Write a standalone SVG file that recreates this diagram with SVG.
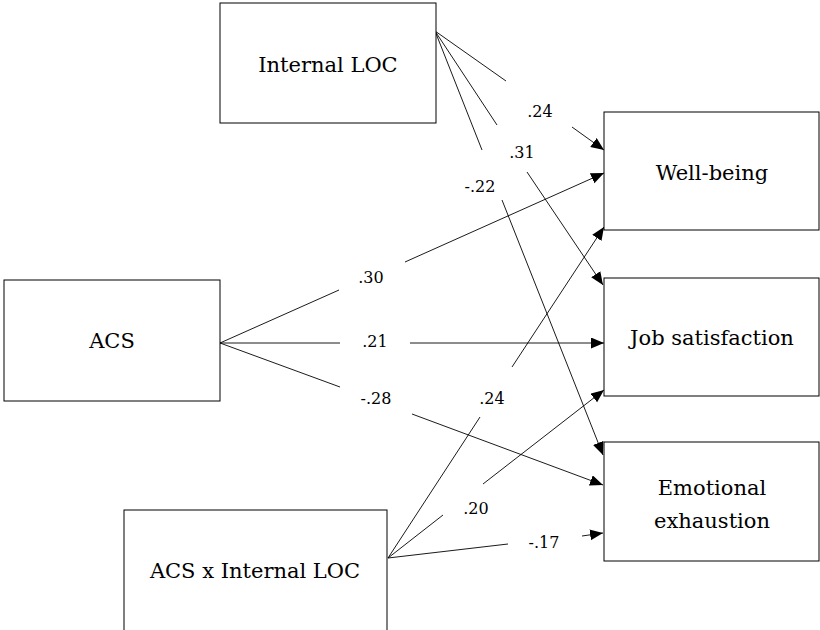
<svg xmlns="http://www.w3.org/2000/svg" width="820" height="630" viewBox="0 0 820 630">
<defs>
<style>
.box{fill:#fff;stroke:#000;stroke-width:1}
.lbl{font-family:'DejaVu Serif','Liberation Serif',serif;font-size:21px;fill:#000;text-anchor:middle}
.coef{font-family:'DejaVu Serif','Liberation Serif',serif;font-size:16px;fill:#000;text-anchor:middle}
.edge{fill:none;stroke:#000;stroke-width:0.9}
</style>
<marker id="arr" markerUnits="userSpaceOnUse" markerWidth="14" markerHeight="12" refX="13" refY="5.5" orient="auto">
<path d="M0,0 L13,5.5 L0,11 Z" fill="#000"/>
</marker>
</defs>
<rect width="820" height="630" fill="#fff"/>
<g id="connectors">
<path class="edge" d="M435,31 L506,81 M572,127 L604,150" marker-end="url(#arr)"/>
<path class="edge" d="M435,31 L497,125 M527,172 L603,285" marker-end="url(#arr)"/>
<path class="edge" d="M435,31 L482,150 M502,200 L603,455" marker-end="url(#arr)"/>
<path class="edge" d="M220,343 L339,290 M405,262 L604,173" marker-end="url(#arr)"/>
<path class="edge" d="M220,343 L340,343 M410,343 L604,343" marker-end="url(#arr)"/>
<path class="edge" d="M220,343 L340,387 M412,414 L603,485" marker-end="url(#arr)"/>
<path class="edge" d="M388,558 L480,417 M512,367 L604,227" marker-end="url(#arr)"/>
<path class="edge" d="M388,558 L443,515 M483,484 L604,390" marker-end="url(#arr)"/>
<path class="edge" d="M388,558 L508,544 M582,536 L603,533" marker-end="url(#arr)"/>
<text class="coef" x="540" y="117">.24</text>
<text class="coef" x="522" y="158">.31</text>
<text class="coef" x="480" y="192">-.22</text>
<text class="coef" x="371" y="283">.30</text>
<text class="coef" x="375" y="347">.21</text>
<text class="coef" x="376" y="404">-.28</text>
<text class="coef" x="492" y="404">.24</text>
<text class="coef" x="476" y="514">.20</text>
<text class="coef" x="544" y="548">-.17</text>
</g>
<g id="internal-loc">
<rect class="box" x="220" y="3" width="216" height="120"/>
<text class="lbl" x="328" y="72">Internal LOC</text>
</g>
<g id="acs">
<rect class="box" x="4" y="280" width="216" height="121"/>
<text class="lbl" x="112" y="348">ACS</text>
</g>
<g id="acs-x-internal-loc">
<rect class="box" x="124" y="510" width="263" height="140"/>
<text class="lbl" x="255" y="578">ACS x Internal LOC</text>
</g>
<g id="well-being">
<rect class="box" x="604" y="112" width="215" height="118"/>
<text class="lbl" x="712" y="180">Well-being</text>
</g>
<g id="job-satisfaction">
<rect class="box" x="604" y="278" width="215" height="118"/>
<text class="lbl" x="712" y="345">Job satisfaction</text>
</g>
<g id="emotional-exhaustion">
<rect class="box" x="604" y="442" width="215" height="119"/>
<text class="lbl" x="712" y="495">Emotional</text>
<text class="lbl" x="712" y="528">exhaustion</text>
</g>
</svg>
